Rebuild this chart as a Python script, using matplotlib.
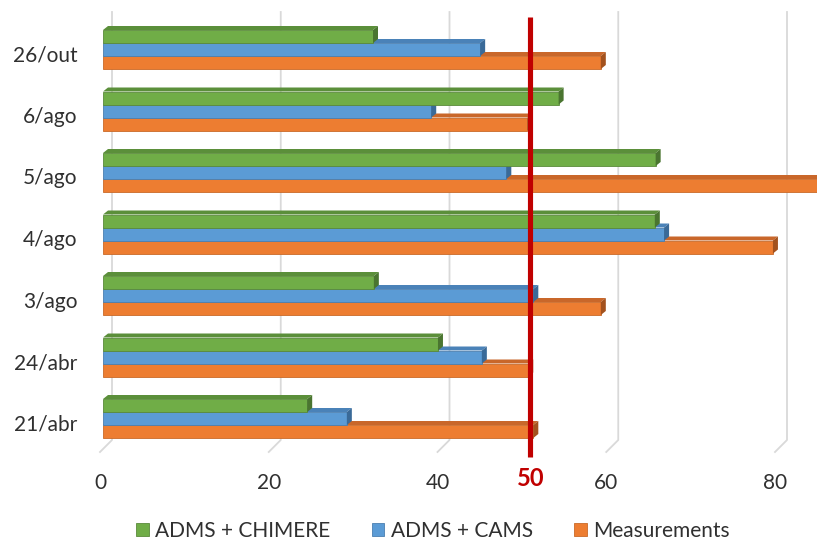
import matplotlib
matplotlib.use("Agg")
import numpy as np
import matplotlib.pyplot as plt
import matplotlib.transforms as mtransforms
from matplotlib.patches import Polygon, Patch
from matplotlib.lines import Line2D

# ---- data -------------------------------------------------------------
categories = ["21/abr", "24/abr", "3/ago", "4/ago", "5/ago", "6/ago", "26/out"]
adms_chimere = [24.2, 39.7, 32.1, 65.4, 65.5, 54.0, 32.0]
adms_cams = [28.9, 44.9, 51.0, 66.5, 47.8, 38.9, 44.7]
measurements = [51.0, 50.4, 59.0, 79.4, 88.0, 50.3, 59.0]
series_names = ["ADMS + CHIMERE", "ADMS + CAMS", "Measurements"]
x_ticks = [0, 20, 40, 60, 80]
limit_value = 50

# ---- style ------------------------------------------------------------
face_colors = ["#70AD47", "#5B9BD5", "#ED7D31"]
top_colors = ["#5B8F3A", "#4A82B8", "#C9672A"]
side_colors = ["#4A7530", "#3A6A98", "#A3521E"]
edge_colors = ["#5A8A3A", "#4A7FB0", "#C96A28"]
grid_color = "#D9D9D9"
text_color = "#303030"
limit_color = "#C00000"

plt.rcParams["font.family"] = ["Lato", "DejaVu Sans"]

W, H = 817, 542
DPI = 100
fig = plt.figure(figsize=(W / DPI, H / DPI), dpi=DPI)

# plotting frame in pixels (from the top-left corner)
left_px, right_px, top_px, bottom_px = 103, 817, 0, 470
ax = fig.add_axes([left_px / W, 1 - bottom_px / H,
                   (right_px - left_px) / W, (bottom_px - top_px) / H])
px_per_unit = 8.4375
row_px = 61.5
first_row_px = 418.5
ax.set_xlim(0, (right_px - left_px) / px_per_unit)
ax.set_ylim((first_row_px - bottom_px) / row_px, (first_row_px - top_px) / row_px)
for s in ax.spines.values():
    s.set_visible(False)

y = np.arange(len(categories))
bar_h = 13 / row_px
offsets = [bar_h, 0.0, -bar_h]
series = [adms_chimere, adms_cams, measurements]
depth_dx, depth_dy = 5, 4          # bevel depth of the bars, in pixels
ident = mtransforms.IdentityTransform()

# ---- bars (lowest series first so upper bars sit on top) ---------------
for k in [2, 1, 0]:
    z = 3 + (2 - k)
    vals = series[k]
    ax.barh(y + offsets[k], vals, height=bar_h, color=face_colors[k],
            edgecolor=edge_colors[k], linewidth=0.6, zorder=z)
    for yi, v in zip(y + offsets[k], vals):
        x0, yt = ax.transData.transform((0, yi + bar_h / 2))
        x1, yb = ax.transData.transform((v, yi - bar_h / 2))
        top = Polygon([(x0, yt), (x1, yt), (x1 + depth_dx, yt + depth_dy),
                       (x0 + depth_dx, yt + depth_dy)], closed=True,
                      transform=ident, facecolor=top_colors[k],
                      edgecolor="none", zorder=z)
        side = Polygon([(x1, yt), (x1 + depth_dx, yt + depth_dy),
                        (x1 + depth_dx, yb + depth_dy), (x1, yb)], closed=True,
                       transform=ident, facecolor=side_colors[k],
                       edgecolor="none", zorder=z)
        ax.add_patch(top)
        ax.add_patch(side)

# ---- gridlines on the back wall with the floor returning to the front ---
for v in x_ticks:
    xb = ax.transData.transform((v, 0))[0]
    gl = Line2D([xb + 9, xb + 9, xb - 3], [H - 12, H - 440, H - 452],
                transform=ident, color=grid_color, lw=1.3, zorder=1)
    gl.set_clip_on(False)
    ax.add_line(gl)

# ---- threshold line ----------------------------------------------------
xl = ax.transData.transform((limit_value, 0))[0] + 5
red = Line2D([xl, xl], [H - 17, H - 457], transform=ident, color=limit_color,
             lw=3.7, solid_capstyle="butt", zorder=10)
red.set_clip_on(False)
ax.add_line(red)

lbl_tr = mtransforms.blended_transform_factory(ax.transData, ax.transAxes) + \
    mtransforms.ScaledTranslation(6 / DPI, 0, fig.dpi_scale_trans)
ax.text(limit_value, -9 / (bottom_px - top_px), str(limit_value), transform=lbl_tr,
        ha="center", va="center", fontsize=17, fontweight="bold", color=limit_color)

# ---- axes labels -------------------------------------------------------
ax.set_xticks(x_ticks)
ax.set_xticklabels([str(t) for t in x_ticks])
ax.set_yticks(y)
ax.set_yticklabels(categories)
ax.tick_params(axis="both", length=0, labelsize=15, labelcolor=text_color)
ax.tick_params(axis="x", pad=2)
ax.tick_params(axis="y", pad=18.5)
for lab in ax.get_xticklabels():
    lab.set_transform(lab.get_transform() +
                      mtransforms.ScaledTranslation(-3 / DPI, 0, fig.dpi_scale_trans))
for lab in ax.get_yticklabels():
    lab.set_transform(lab.get_transform() +
                      mtransforms.ScaledTranslation(0, -4 / DPI, fig.dpi_scale_trans))

# ---- legend ------------------------------------------------------------
handles = [Patch(facecolor=face_colors[k], edgecolor=edge_colors[k], linewidth=0.6)
           for k in range(3)]
fig.legend(handles, series_names, loc="center", bbox_to_anchor=(433 / W, 11 / H),
           ncol=3, frameon=False, fontsize=15, handlelength=0.6, handleheight=0.6,
           handletextpad=0.3, columnspacing=2.0, labelcolor=text_color)

fig.savefig("out.png", dpi=DPI)
